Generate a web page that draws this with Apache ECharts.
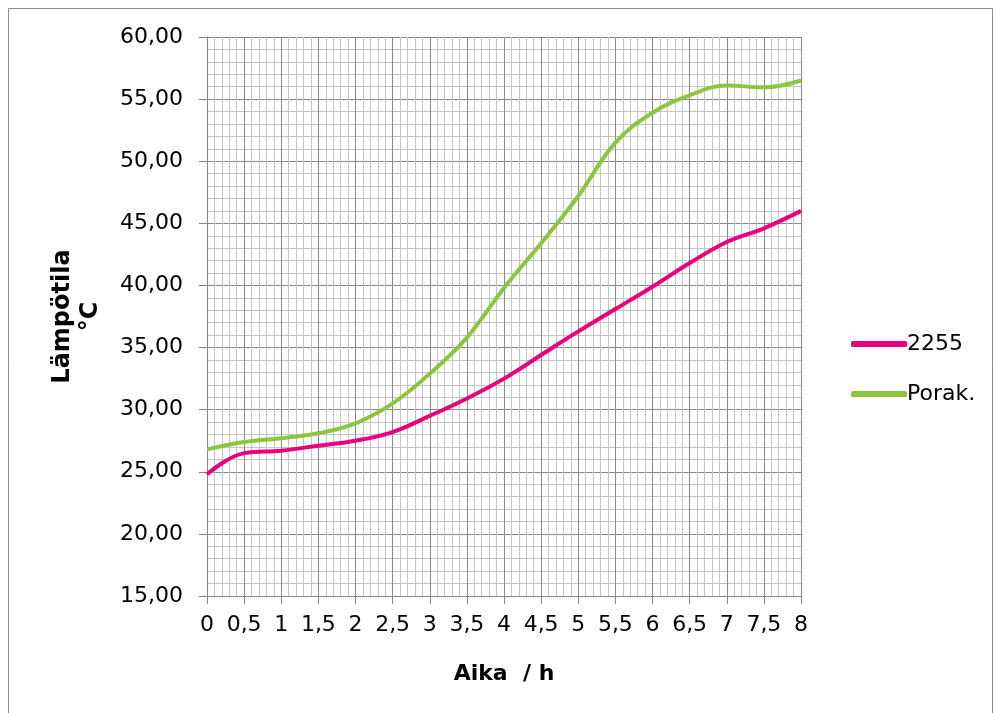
<!DOCTYPE html>
<html>
<head>
<meta charset="utf-8">
<script src="https://cdn.jsdelivr.net/npm/echarts@6/dist/echarts.min.js"></script>
<style>
  html, body { margin: 0; padding: 0; background: #fff; }
  #chart { width: 995px; height: 713px; }
</style>
</head>
<body>
<div id="chart"></div>
<script>
  // aika tunteina
  var hours = [0, 0.5, 1, 1.5, 2, 2.5, 3, 3.5, 4, 4.5, 5, 5.5, 6, 6.5, 7, 7.5, 8];
  var temp2255 = [24.8, 26.5, 26.7, 27.1, 27.5, 28.2, 29.5, 30.9, 32.5, 34.4, 36.3, 38.1, 39.9, 41.8, 43.5, 44.6, 46.0];
  var tempPorak = [26.8, 27.4, 27.7, 28.1, 28.9, 30.5, 32.9, 35.8, 39.8, 43.4, 47.2, 51.5, 53.9, 55.3, 56.1, 55.95, 56.5];
  var seriesNames = ['2255', 'Porak.'];

  function pairs(xs, ys) {
    return xs.map(function (x, i) { return [x, ys[i]]; });
  }

  var myChart = echarts.init(document.getElementById('chart'));
  var font = 'DejaVu Sans';

  var option = {
    animation: false,
    backgroundColor: '#fff',
    textStyle: { fontFamily: font },
    graphic: [{
      type: 'rect',
      shape: { x: 8.5, y: 8.5, width: 984, height: 730 },
      style: { fill: 'none', stroke: '#8c8c8c', lineWidth: 1 }
    }],
    grid: { left: 207, right: 194, top: 37, bottom: 117, outerBoundsMode: 'none' },
    legend: {
      orient: 'vertical',
      left: 846,
      top: 328,
      itemWidth: 56,
      itemHeight: 6,
      itemGap: 28,
      icon: 'roundRect',
      textStyle: { fontSize: 22, color: '#000', fontFamily: font, padding: [0, 0, 0, -5] },
      data: seriesNames
    },
    xAxis: {
      type: 'value',
      min: 0,
      max: 8,
      interval: 0.5,
      name: 'Aika  / h',
      nameLocation: 'middle',
      nameGap: 67,
      nameTextStyle: { fontSize: 22, fontWeight: 'bold', color: '#000' },
      axisLine: { lineStyle: { color: '#868686', width: 1 } },
      axisTick: { show: true, length: 8, lineStyle: { color: '#868686' } },
      axisLabel: {
        fontSize: 22, color: '#000', margin: 18,
        formatter: function (v) { return String(v).replace('.', ','); }
      },
      splitLine: { show: true, lineStyle: { color: '#8a8a8a', width: 1 } },
      minorTick: { show: false, splitNumber: 5 },
      minorSplitLine: { show: true, lineStyle: { color: '#c4c4c4', width: 1 } }
    },
    yAxis: {
      type: 'value',
      min: 15,
      max: 60,
      interval: 5,
      name: 'Lämpötila\n°C',
      nameLocation: 'middle',
      nameRotate: 90,
      nameGap: 102,
      nameTextStyle: { fontSize: 24, fontWeight: 'bold', color: '#000', lineHeight: 28 },
      axisLine: { show: true, lineStyle: { color: '#868686', width: 1 } },
      axisTick: { show: true, length: 8, lineStyle: { color: '#868686' } },
      axisLabel: {
        fontSize: 22, color: '#000', margin: 24,
        formatter: function (v) { return v.toFixed(2).replace('.', ','); }
      },
      splitLine: { show: true, lineStyle: { color: '#8a8a8a', width: 1 } },
      minorTick: { show: false, splitNumber: 5 },
      minorSplitLine: { show: true, lineStyle: { color: '#c4c4c4', width: 1 } }
    },
    series: [
      {
        name: seriesNames[0],
        type: 'line',
        smooth: 0.4,
        showSymbol: false,
        symbol: 'none',
        data: pairs(hours, temp2255),
        lineStyle: { color: '#e8007d', width: 4 },
        itemStyle: { color: '#e8007d' }
      },
      {
        name: seriesNames[1],
        type: 'line',
        smooth: 0.4,
        showSymbol: false,
        symbol: 'none',
        data: pairs(hours, tempPorak),
        lineStyle: { color: '#8cc63f', width: 4 },
        itemStyle: { color: '#8cc63f' }
      }
    ]
  };

  myChart.setOption(option);
</script>
</body>
</html>
